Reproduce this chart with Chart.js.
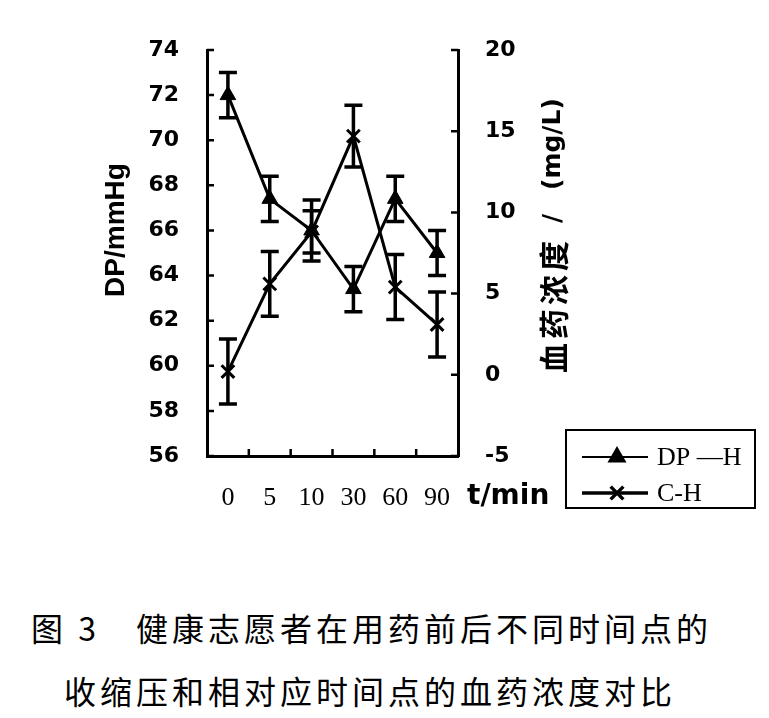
<!DOCTYPE html>
<html>
<head>
<meta charset="utf-8">
<script src="https://cdn.jsdelivr.net/npm/chart.js@4.4.0/dist/chart.umd.min.js"></script>
<style>
  html, body { margin:0; padding:0; background:#fff; }
  #wrap { position:relative; width:769px; height:718px; }
  #chart { position:absolute; left:0; top:0; }
  .cap { position:absolute; font-family:"Noto Sans CJK SC"; font-size:32px; line-height:40px;
         letter-spacing:4px; color:#000; white-space:nowrap; }
</style>
</head>
<body>
<div id="wrap">
  <canvas id="chart" width="769" height="560"></canvas>
  <div class="cap" style="left:31px;top:607px">图 3　健康志愿者在用药前后不同时间点的</div>
  <div class="cap" style="left:64px;top:670px">收缩压和相对应时间点的血药浓度对比</div>
</div>
<script>
// ─── Data ─────────────────────────────────────────────────────────────
const TIMES  = ['0','5','10','30','60','90'];
const DP_H   = [72.0, 67.4, 66.0, 63.4, 67.4, 65.0];   // mmHg
const DP_ERR = [1.0, 1.0, 1.35, 1.0, 1.0, 1.0];
const C_H    = [0.2, 5.6, 8.8, 14.7, 5.4, 3.1];        // mg/L
const C_ERR  = [2.0, 2.0, 1.3, 1.9, 2.0, 2.0];
const DP_AXIS = { min:56, max:74, step:2 };
const C_AXIS  = { min:-5, max:20, step:5 };
const LEGEND_LABELS = ['DP —H', 'C-H'];
const X_TITLE = 't/min';
const Y_TITLE = 'DP/mmHg';
const Y1_TITLE_CN = ['血','药','浓','度'];
const Y1_TITLE_UNIT = '(mg/L)';

// ─── Style ────────────────────────────────────────────────────────────
const NUM_FONT = { family:"'DejaVu Sans'", size:22, weight:'bold' };
const SERIF = "'Liberation Serif', 'DejaVu Serif', serif";
const AXIS_BORDER = { color:'#000', width:3 };

// error bars drawn through the scales
const errorBars = {
  id:'errorBars',
  beforeDatasetsDraw(chart) {
    const ctx = chart.ctx;
    chart.data.datasets.forEach((ds, di) => {
      const meta = chart.getDatasetMeta(di);
      const ys = chart.scales[ds.yAxisID];
      meta.data.forEach((pt, i) => {
        const v = ds.data[i], e = ds.errors[i];
        const top = ys.getPixelForValue(v + e), bot = ys.getPixelForValue(v - e);
        ctx.save();
        ctx.strokeStyle = '#000'; ctx.lineWidth = 3.5;
        ctx.beginPath();
        ctx.moveTo(pt.x, top); ctx.lineTo(pt.x, bot);
        ctx.moveTo(pt.x - 9, top); ctx.lineTo(pt.x + 9, top);
        ctx.moveTo(pt.x - 9, bot); ctx.lineTo(pt.x + 9, bot);
        ctx.stroke();
        ctx.restore();
      });
    });
  }
};

// inward ticks, axis titles, legend box
const decor = {
  id:'decor',
  afterDraw(chart) {
    const ctx = chart.ctx, a = chart.chartArea;
    const x = chart.scales.x, y = chart.scales.y, y1 = chart.scales.y1;
    ctx.save();
    ctx.strokeStyle = '#000'; ctx.fillStyle = '#000'; ctx.lineWidth = 2.5;
    ctx.beginPath();
    y.ticks.forEach((t, i) => { const p = y.getPixelForTick(i); ctx.moveTo(a.left, p); ctx.lineTo(a.left + 7, p); });
    y1.ticks.forEach((t, i) => { const p = y1.getPixelForTick(i); ctx.moveTo(a.right - 7, p); ctx.lineTo(a.right, p); });
    for (let i = 0; i < TIMES.length - 1; i++) {
      const p = x.getPixelForValue(i + 0.5);
      ctx.moveTo(p, a.bottom); ctx.lineTo(p, a.bottom - 7);
    }
    ctx.stroke();

    // left title
    ctx.save();
    ctx.translate(116, 230); ctx.rotate(-Math.PI / 2);
    ctx.font = "bold 28px 'Liberation Sans'"; ctx.textAlign = 'center'; ctx.textBaseline = 'middle';
    ctx.fillText(Y_TITLE, 0, 0);
    ctx.restore();

    // right title
    ctx.save();
    ctx.translate(553, 373); ctx.rotate(-Math.PI / 2);
    ctx.textAlign = 'left'; ctx.textBaseline = 'middle';
    ctx.font = "bold 30px 'Noto Sans CJK SC'";
    Y1_TITLE_CN.forEach((c, i) => ctx.fillText(c, i * 34, 1));
    ctx.font = "bold 25px 'DejaVu Sans'";
    ctx.fillText('/', 150, 0);
    ctx.fillText(Y1_TITLE_UNIT, 183, 0);
    ctx.restore();

    // x title
    ctx.font = "bold 28px 'DejaVu Sans'"; ctx.textAlign = 'left'; ctx.textBaseline = 'middle';
    ctx.fillText(X_TITLE, 467, 497);

    // legend
    ctx.lineWidth = 2;
    ctx.strokeRect(566, 430, 189, 78);
    const rows = [457, 493];
    chart.data.datasets.forEach((ds, di) => {
      const ry = rows[di];
      ctx.lineWidth = di === 0 ? 2 : 3.5;
      ctx.beginPath(); ctx.moveTo(582, ry); ctx.lineTo(648, ry); ctx.stroke();
      Chart.helpers.drawPoint(ctx, {
        pointStyle: ds.pointStyle, radius: ds.pointRadius, borderWidth: ds.pointBorderWidth, rotation: 0
      }, 617, ry);
      ctx.fillStyle = '#000';
      ctx.font = `26px ${SERIF}`; ctx.textAlign = 'left'; ctx.textBaseline = 'middle';
      ctx.fillText(LEGEND_LABELS[di], 657, ry + 1);
    });
    ctx.restore();
  }
};

new Chart(document.getElementById('chart').getContext('2d'), {
  type:'line',
  data:{
    labels: TIMES,
    datasets:[
      {
        label: LEGEND_LABELS[0], data: DP_H, errors: DP_ERR, yAxisID:'y',
        borderColor:'#000', backgroundColor:'#000', borderWidth:3,
        pointStyle:'triangle', pointRadius:9, pointBorderWidth:1, tension:0,
      },
      {
        label: LEGEND_LABELS[1], data: C_H, errors: C_ERR, yAxisID:'y1',
        borderColor:'#000', backgroundColor:'#000', borderWidth:3,
        pointStyle:'crossRot', pointRadius:9, pointBorderWidth:3, tension:0,
      }
    ]
  },
  options:{
    responsive:false, animation:false,
    layout:{ padding:{ top:50, left:0, right:0, bottom:0 } },
    plugins:{ legend:{ display:false }, tooltip:{ enabled:false } },
    scales:{
      x:{
        offset:true,
        grid:{ display:false, drawTicks:false },
        border: AXIS_BORDER,
        ticks:{ color:'#000', font:{ family:SERIF, size:26 }, padding:27, maxRotation:0 },
        afterFit: s => { s.height = 104; }
      },
      y:{
        position:'left', min:DP_AXIS.min, max:DP_AXIS.max,
        grid:{ display:false, drawTicks:false },
        border: AXIS_BORDER,
        ticks:{ stepSize:DP_AXIS.step, color:'#000', font:NUM_FONT, padding:28 },
        afterFit: s => { s.width = 207; }
      },
      y1:{
        position:'right', min:C_AXIS.min, max:C_AXIS.max,
        grid:{ display:false, drawTicks:false },
        border: AXIS_BORDER,
        ticks:{ stepSize:C_AXIS.step, color:'#000', font:NUM_FONT, padding:27 },
        afterFit: s => { s.width = 311; }
      }
    }
  },
  plugins:[errorBars, decor]
});
</script>
</body>
</html>
